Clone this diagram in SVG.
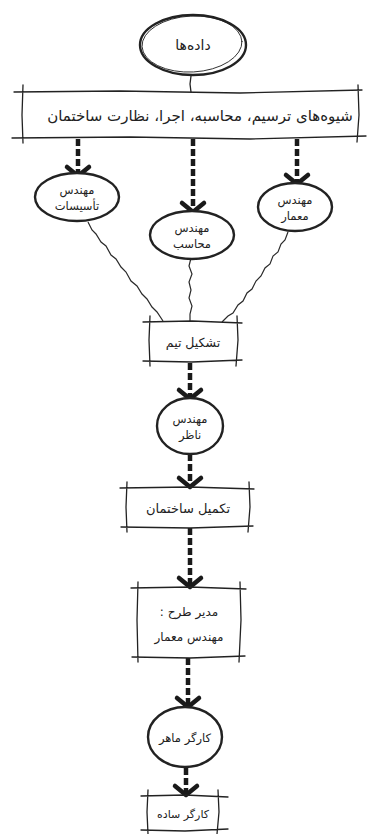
<svg xmlns="http://www.w3.org/2000/svg" width="370" height="834" viewBox="0 0 370 834">
<style>
.ink{fill:none;stroke:#222;stroke-linecap:round;stroke-linejoin:round}
.edge{stroke-width:1.3}
.oval{stroke-width:2.4;fill:#fff}
.oval2{stroke-width:0.9}
.dash{fill:none;stroke:#1a1a1a;stroke-width:4.5;stroke-dasharray:7 3}
.wave{fill:none;stroke:#2a2a2a;stroke-width:1.2}
.t{font-family:"DejaVu Sans","Noto Sans",sans-serif;fill:#222;text-anchor:middle;direction:rtl}
</style>
<defs>
<marker id="chev" markerUnits="userSpaceOnUse" markerWidth="30" markerHeight="30" refX="0" refY="0" orient="auto" viewBox="-15 -15 30 30" overflow="visible">
<path d="M-9,-11 L0,0 L-9,11" fill="none" stroke="#1a1a1a" stroke-width="4.5" stroke-linecap="round" stroke-linejoin="round"/>
</marker>
</defs>
<rect width="370" height="834" fill="#fff"/>

<g id="connectors">
<path class="ink edge" d="M191,76 L190,84 L191,92"/>
<line class="dash" x1="78" y1="139" x2="78" y2="176" marker-end="url(#chev)"/>
<line class="dash" x1="193" y1="139" x2="193" y2="212" marker-end="url(#chev)"/>
<line class="dash" x1="297" y1="139" x2="297" y2="184" marker-end="url(#chev)"/>
<path class="wave" d="M88,222 L92,230 L96,234 L101,242 L106,246 L111,255 L116,259 L121,267 L126,272 L131,281 L137,286 L142,294 L147,299 L152,307 L157,312 L163,321"/>
<path class="wave" d="M191,258 L189,266 L192,274 L189,282 L191,290 L189,298 L192,306 L190,314 L190,322"/>
<path class="wave" d="M288,232 L285,240 L281,244 L278,252 L273,256 L270,264 L265,268 L261,276 L256,281 L252,289 L247,293 L243,301 L238,305 L233,313 L228,316 L222,322"/>
<line class="dash" x1="190" y1="363" x2="190" y2="399" marker-end="url(#chev)"/>
<line class="dash" x1="190" y1="454" x2="190" y2="487" marker-end="url(#chev)"/>
<line class="dash" x1="190" y1="528" x2="190" y2="587" marker-end="url(#chev)"/>
<line class="dash" x1="188" y1="658" x2="188" y2="707" marker-end="url(#chev)"/>
<line class="dash" x1="186" y1="768" x2="186" y2="795" stroke-dasharray="none" marker-end="url(#chev)"/>
</g>

<g id="n-data">
<ellipse class="ink oval" cx="193" cy="45" rx="53" ry="30"/>
<ellipse class="ink oval2" cx="192" cy="44" rx="50" ry="28" transform="rotate(-3 192 44)"/>
<text class="t" x="193" y="50" font-size="14">داده‌ها</text>
</g>

<g id="n-methods">
<path class="ink edge" d="M14,92 L120,91 L240,93 L362,90 M12,138 L130,137 L250,139 L366,136 M23,85 L22,115 L23,143 M358,85 L359,115 L357,142"/>
<text class="t" x="200" y="121" font-size="15">شیوه‌های ترسیم، محاسبه، اجرا، نظارت ساختمان</text>
</g>

<g id="n-mech">
<ellipse class="ink oval" cx="77" cy="197" rx="42" ry="24"/>
<text class="t" x="77" y="194" font-size="11.5">مهندس</text>
<text class="t" x="77" y="210" font-size="11.5">تأسیسات</text>
</g>

<g id="n-struct">
<ellipse class="ink oval" cx="192" cy="235" rx="42" ry="24"/>
<text class="t" x="192" y="232" font-size="11.5">مهندس</text>
<text class="t" x="192" y="248" font-size="11.5">محاسب</text>
</g>

<g id="n-arch">
<ellipse class="ink oval" cx="295" cy="207" rx="37" ry="24"/>
<text class="t" x="295" y="204" font-size="11.5">مهندس</text>
<text class="t" x="295" y="220" font-size="11.5">معمار</text>
</g>

<g id="n-team">
<path class="ink edge" d="M143,322 L192,321 L242,323 M143,361 L192,362 L242,360 M150,316 L149,340 L150,366 M237,316 L238,340 L236,366"/>
<text class="t" x="193" y="347" font-size="12.5">تشکیل تیم</text>
</g>

<g id="n-super">
<ellipse class="ink oval" cx="190" cy="426" rx="33" ry="28"/>
<text class="t" x="190" y="423" font-size="11.5">مهندس</text>
<text class="t" x="190" y="439" font-size="11.5">ناظر</text>
</g>

<g id="n-complete">
<path class="ink edge" d="M120,488 L190,487 L254,489 M121,527 L190,528 L253,526 M127,482 L126,507 L127,532 M249,482 L250,507 L248,532"/>
<text class="t" x="188" y="513" font-size="13">تکمیل ساختمان</text>
</g>

<g id="n-manager">
<path class="ink edge" d="M131,588 L190,587 L246,589 M132,657 L190,658 L245,656 M138,582 L137,620 L138,662 M240,582 L241,620 L239,662"/>
<text class="t" x="189" y="616" font-size="12">مدیر طرح :</text>
<text class="t" x="189" y="641" font-size="12">مهندس معمار</text>
</g>

<g id="n-skilled">
<ellipse class="ink oval" cx="185" cy="737" rx="37" ry="30"/>
<text class="t" x="185" y="742" font-size="11.5">کارگر ماهر</text>
</g>

<g id="n-simple">
<path class="ink edge" d="M141,796 L185,795 L228,797 M141,830 L185,831 L228,829 M148,790 L147,812 L148,834 M218,790 L219,812 L217,834"/>
<text class="t" x="183" y="818" font-size="11">کارگر ساده</text>
</g>
</svg>
